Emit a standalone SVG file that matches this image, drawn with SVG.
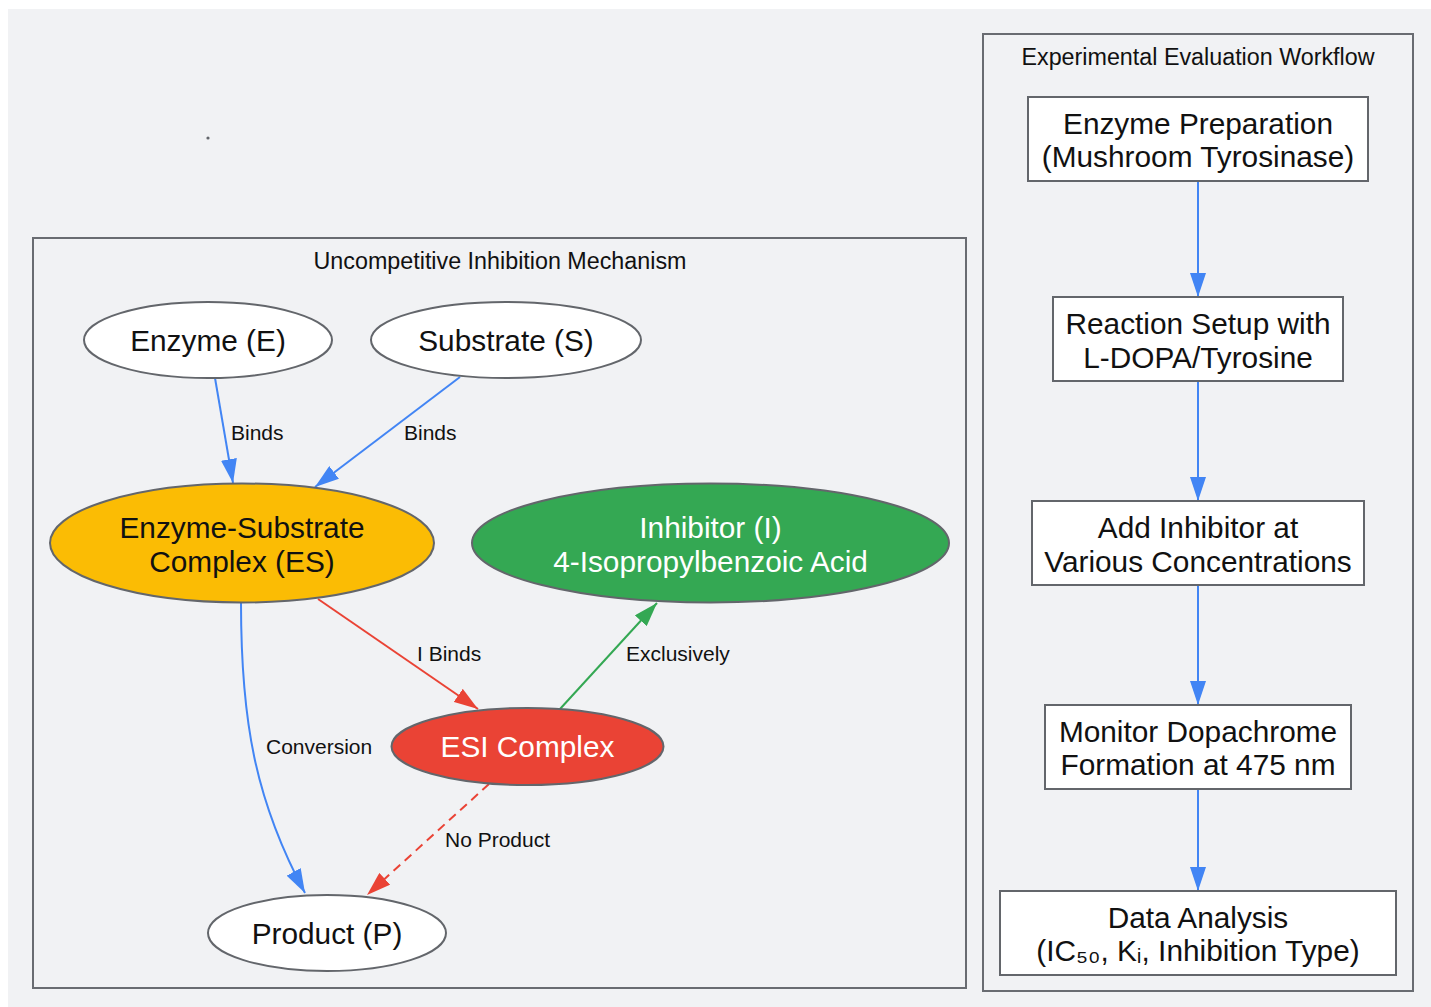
<svg xmlns="http://www.w3.org/2000/svg" width="1431" height="1007" viewBox="0 0 1431 1007">
<style>
text{font-family:"Liberation Sans",Arial,sans-serif;fill:#111;}
.t{font-size:29.8px;text-anchor:middle;}
.w{fill:#fff;}
.lbl{font-size:21px;}
.ttl{font-size:23.3px;text-anchor:middle;}
.cl{fill:#f1f2f4;stroke:#696c71;stroke-width:2;}
.nd{stroke:#63666b;stroke-width:2;}
.bx{fill:#fff;stroke:#63666b;stroke-width:2;}
.e{fill:none;stroke-width:2;}
.b{stroke:#4285f4;}
.r{stroke:#ea4335;}
.g{stroke:#34a853;}
</style>
<defs>
<marker id="ab" markerUnits="userSpaceOnUse" markerWidth="24" markerHeight="16" refX="24" refY="8" orient="auto" viewBox="0 0 24 16"><path d="M0,0L24,8L0,16z" fill="#4285f4"/></marker>
<marker id="ar" markerUnits="userSpaceOnUse" markerWidth="24" markerHeight="16" refX="24" refY="8" orient="auto" viewBox="0 0 24 16"><path d="M0,0L24,8L0,16z" fill="#ea4335"/></marker>
<marker id="ag" markerUnits="userSpaceOnUse" markerWidth="24" markerHeight="16" refX="24" refY="8" orient="auto" viewBox="0 0 24 16"><path d="M0,0L24,8L0,16z" fill="#34a853"/></marker>
</defs>
<rect x="0" y="0" width="1431" height="1007" fill="#fff"/>
<rect x="8" y="9" width="1423" height="998" fill="#f1f2f4"/>
<g id="cluster-mechanism">
<rect class="cl" x="33" y="238" width="933" height="750"/>
<text class="ttl" x="500" y="269">Uncompetitive Inhibition Mechanism</text>
</g>
<g id="cluster-workflow">
<rect class="cl" x="983" y="34" width="430" height="957"/>
<text class="ttl" x="1198" y="65">Experimental Evaluation Workflow</text>
</g>
<g id="dot"><circle cx="208" cy="138" r="1.6" fill="#63666b"/></g>
<g id="connectors">
<path class="e b" d="M215,378L233,483" marker-end="url(#ab)"/>
<text class="lbl" x="231" y="440">Binds</text>
<path class="e b" d="M460,377L315,487" marker-end="url(#ab)"/>
<text class="lbl" x="404" y="440">Binds</text>
<path class="e r" d="M318,599L478,709" marker-end="url(#ar)"/>
<text class="lbl" x="417" y="661">I Binds</text>
<path class="e g" d="M560,709L657,603" marker-end="url(#ag)"/>
<text class="lbl" x="626" y="661">Exclusively</text>
<path class="e b" d="M241,603C241,720 255,800 305,893" marker-end="url(#ab)"/>
<text class="lbl" x="266" y="754">Conversion</text>
<path class="e r" d="M489,784L367,895" stroke-dasharray="9,6" marker-end="url(#ar)"/>
<text class="lbl" x="445" y="847">No Product</text>
<path class="e b" d="M1198,181L1198,297" marker-end="url(#ab)"/>
<path class="e b" d="M1198,381L1198,501" marker-end="url(#ab)"/>
<path class="e b" d="M1198,585L1198,705" marker-end="url(#ab)"/>
<path class="e b" d="M1198,789L1198,891" marker-end="url(#ab)"/>
</g>
<g id="enzyme">
<ellipse class="nd" cx="208" cy="340" rx="124" ry="38" fill="#fff"/>
<text class="t" x="208" y="351">Enzyme (E)</text>
</g>
<g id="substrate">
<ellipse class="nd" cx="506" cy="340" rx="135" ry="38" fill="#fff"/>
<text class="t" x="506" y="351">Substrate (S)</text>
</g>
<g id="es-complex">
<ellipse class="nd" cx="242" cy="543" rx="192" ry="59.5" fill="#fbbc04"/>
<text class="t" x="242" y="538">Enzyme-Substrate</text>
<text class="t" x="242" y="572">Complex (ES)</text>
</g>
<g id="inhibitor">
<ellipse class="nd" cx="710.5" cy="543" rx="238.5" ry="59.5" fill="#34a853"/>
<text class="t w" x="710.5" y="538">Inhibitor (I)</text>
<text class="t w" x="710.5" y="572">4-Isopropylbenzoic Acid</text>
</g>
<g id="esi-complex">
<ellipse class="nd" cx="527.5" cy="746.5" rx="136" ry="38.5" fill="#ea4335"/>
<text class="t w" x="527.5" y="757">ESI Complex</text>
</g>
<g id="product">
<ellipse class="nd" cx="327" cy="933" rx="119" ry="38" fill="#fff"/>
<text class="t" x="327" y="944">Product (P)</text>
</g>
<g id="step1">
<rect class="bx" x="1028" y="97" width="340" height="84"/>
<text class="t" x="1198" y="134">Enzyme Preparation</text>
<text class="t" x="1198" y="167">(Mushroom Tyrosinase)</text>
</g>
<g id="step2">
<rect class="bx" x="1053" y="297" width="290" height="84"/>
<text class="t" x="1198" y="334">Reaction Setup with</text>
<text class="t" x="1198" y="368">L-DOPA/Tyrosine</text>
</g>
<g id="step3">
<rect class="bx" x="1032" y="501" width="332" height="84"/>
<text class="t" x="1198" y="538">Add Inhibitor at</text>
<text class="t" x="1198" y="572">Various Concentrations</text>
</g>
<g id="step4">
<rect class="bx" x="1045" y="705" width="306" height="84"/>
<text class="t" x="1198" y="742">Monitor Dopachrome</text>
<text class="t" x="1198" y="775">Formation at 475 nm</text>
</g>
<g id="step5">
<rect class="bx" x="1000" y="891" width="396" height="84"/>
<text class="t" x="1198" y="928">Data Analysis</text>
<text class="t" x="1198" y="961">(IC₅₀, Kᵢ, Inhibition Type)</text>
</g>
</svg>
